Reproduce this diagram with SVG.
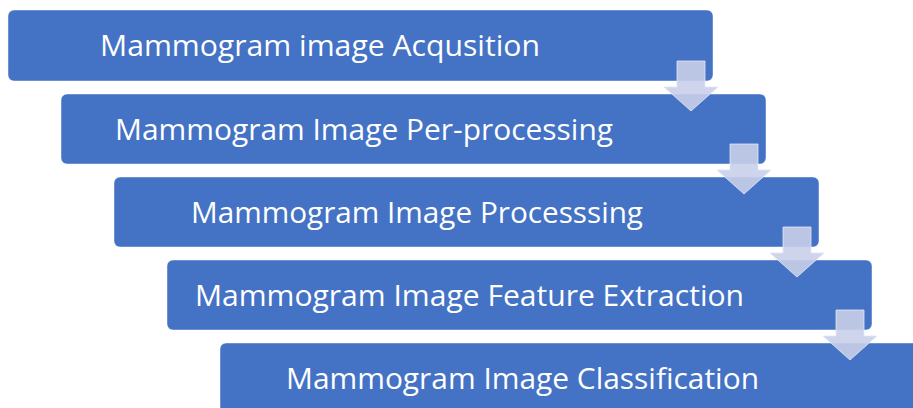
<svg xmlns="http://www.w3.org/2000/svg" width="913" height="408" viewBox="0 0 913 408">
<style>
.box{fill:#4472C4;stroke:#ffffff;stroke-width:0.75;stroke-opacity:0.6}
.lbl{fill:#ffffff;font-family:"Open Sans","Liberation Sans",sans-serif;font-size:29px}
.arr{fill:#c9cfe9;fill-opacity:0.9;stroke:#e3e7f4;stroke-width:1;stroke-opacity:0.8}
</style>
<rect width="913" height="408" fill="#ffffff"/>
<g id="node1">
<rect class="box" x="8" y="10" width="705" height="71" rx="6"/>
<text class="lbl" x="100" y="56" textLength="440" lengthAdjust="spacingAndGlyphs">Mammogram image Acqusition</text>
</g>
<g id="node2">
<rect class="box" x="61" y="94" width="705" height="70" rx="6"/>
<text class="lbl" x="115" y="139.5" textLength="498" lengthAdjust="spacingAndGlyphs">Mammogram Image Per-processing</text>
</g>
<g id="node3">
<rect class="box" x="114" y="177" width="705" height="70" rx="6"/>
<text class="lbl" x="191" y="222.5" textLength="452" lengthAdjust="spacingAndGlyphs">Mammogram Image Processsing</text>
</g>
<g id="node4">
<rect class="box" x="167" y="260" width="705" height="70" rx="6"/>
<text class="lbl" x="195" y="305.5" textLength="549" lengthAdjust="spacingAndGlyphs">Mammogram Image Feature Extraction</text>
</g>
<g id="node5">
<rect class="box" x="220" y="343" width="705" height="70" rx="6"/>
<text class="lbl" x="286" y="388.5" textLength="473" lengthAdjust="spacingAndGlyphs">Mammogram Image Classification</text>
</g>
<g id="connectors">
<path class="arr" d="M677,61 H705 V87 H718 L691,111 L664,87 H677 Z"/>
<path class="arr" d="M730,144 H758 V170 H771 L744,194 L717,170 H730 Z"/>
<path class="arr" d="M783,227 H811 V253 H824 L797,277 L770,253 H783 Z"/>
<path class="arr" d="M836,310 H864 V336 H877 L850,360 L823,336 H836 Z"/>
</g>
</svg>
